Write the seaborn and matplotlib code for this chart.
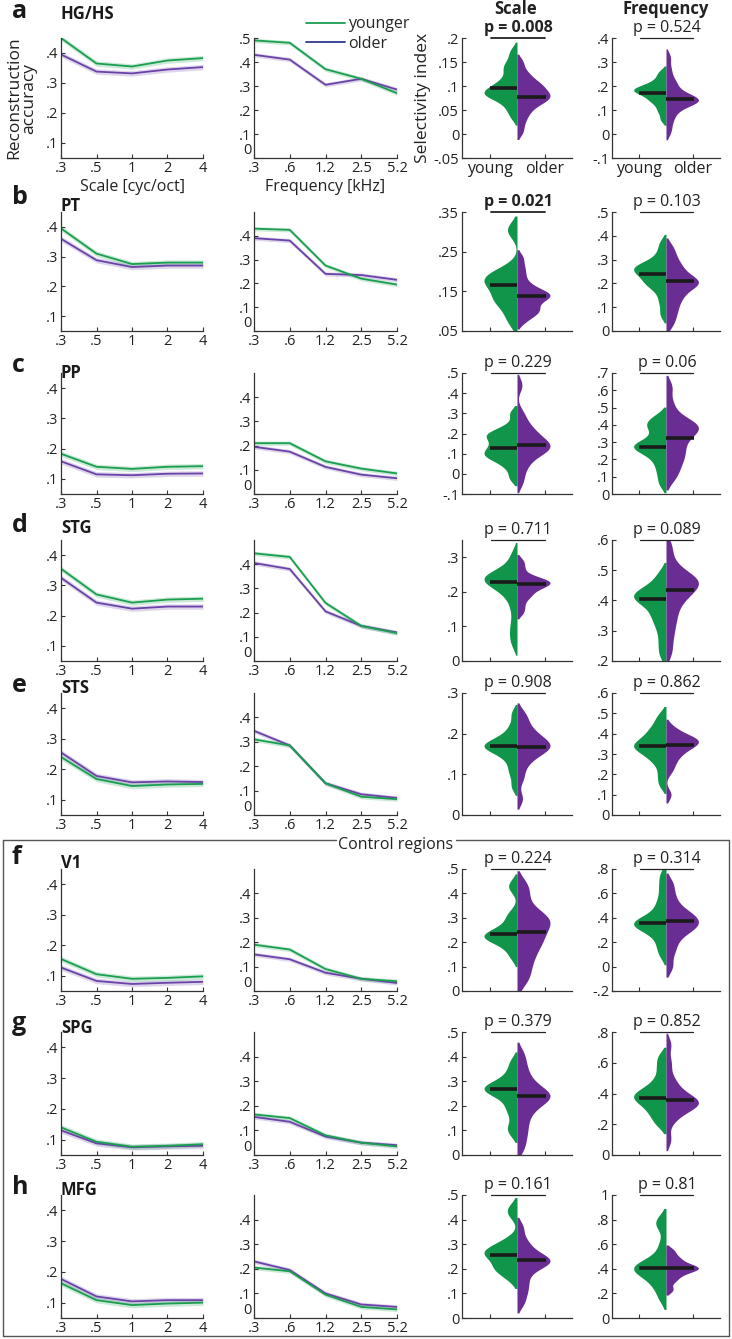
import numpy as np
import pandas as pd
import matplotlib
matplotlib.use('Agg')
import matplotlib.pyplot as plt
import seaborn as sns
from matplotlib.lines import Line2D

sns.set_theme(style='ticks')
plt.rcParams['font.family'] = ['Open Sans', 'DejaVu Sans']

# ---- data ----
regions = ['HG/HS', 'PT', 'PP', 'STG', 'STS', 'V1', 'SPG', 'MFG']
letters = ['a', 'b', 'c', 'd', 'e', 'f', 'g', 'h']
scale_labels = ['.3', '.5', '1', '2', '4']
freq_labels = ['.3', '.6', '1.2', '2.5', '5.2']

# reconstruction accuracy vs scale (one row per region)
scale_young = [[.45, .365, .355, .375, .383], [.395, .31, .275, .28, .28],
               [.183, .14, .133, .14, .142], [.355, .27, .243, .253, .256],
               [.24, .168, .145, .15, .152], [.155, .105, .09, .093, .098],
               [.14, .093, .077, .08, .085], [.163, .108, .092, .097, .10]]
scale_older = [[.395, .338, .332, .345, .353], [.36, .288, .265, .27, .27],
               [.158, .115, .112, .117, .118], [.325, .243, .223, .23, .23],
               [.255, .178, .157, .16, .158], [.127, .083, .073, .077, .08],
               [.13, .088, .075, .078, .08], [.177, .12, .104, .108, .108]]
# reconstruction accuracy vs frequency
freq_young = [[.49, .48, .37, .33, .27], [.43, .425, .275, .22, .195],
              [.21, .21, .135, .105, .085], [.445, .43, .24, .145, .115],
              [.31, .285, .13, .075, .065], [.19, .17, .09, .05, .04],
              [.165, .15, .08, .05, .035], [.205, .19, .095, .045, .035]]
freq_older = [[.43, .41, .305, .33, .285], [.39, .38, .24, .235, .215],
              [.195, .175, .112, .08, .065], [.405, .38, .205, .145, .118],
              [.345, .285, .13, .085, .07], [.15, .13, .075, .05, .033],
              [.155, .135, .075, .05, .04], [.23, .195, .10, .055, .045]]
sem_band = 0.009

# selectivity index samples (scale)
si_scale_young = [
    [.035, .05, .06, .07, .075, .08, .082, .085, .088, .09, .095, .10, .105, .11, .12, .13, .14, .145, .16, .175],
    [.07, .09, .11, .125, .13, .135, .15, .16, .17, .175, .18, .185, .19, .20, .21, .30, .31],
    [-.02, .03, .06, .08, .09, .10, .11, .13, .14, .16, .18, .19, .20, .21, .24, .30],
    [.05, .08, .11, .15, .18, .20, .21, .22, .23, .235, .24, .24, .245, .25, .26, .28, .31],
    [.07, .10, .12, .14, .15, .16, .165, .17, .17, .175, .18, .19, .20, .22, .25],
    [.14, .17, .20, .21, .22, .22, .225, .23, .24, .25, .27, .30, .32, .42, .44],
    [.09, .12, .17, .20, .23, .25, .26, .27, .27, .28, .29, .31, .34, .38],
    [.16, .19, .20, .21, .23, .25, .26, .27, .27, .28, .30, .32, .42, .45]]
si_scale_older = [
    [.005, .025, .04, .05, .06, .065, .07, .075, .078, .08, .085, .09, .095, .10, .105, .11, .12, .13, .15],
    [.075, .09, .10, .10, .11, .12, .13, .135, .14, .14, .145, .15, .16, .17, .19, .21, .235],
    [-.04, .02, .06, .09, .11, .12, .13, .14, .15, .16, .18, .20, .22, .25, .30, .44],
    [.14, .16, .18, .19, .20, .21, .215, .22, .225, .228, .23, .235, .24, .25, .27, .29],
    [.04, .09, .12, .14, .15, .16, .165, .17, .175, .18, .19, .20, .21, .23, .25],
    [.04, .08, .12, .15, .18, .20, .22, .24, .26, .28, .29, .30, .32, .35, .40, .44],
    [.03, .08, .12, .16, .19, .21, .23, .24, .24, .25, .27, .29, .32, .36, .41],
    [.06, .10, .13, .16, .19, .21, .22, .23, .235, .24, .25, .27, .29, .32, .37]]
# selectivity index samples (frequency)
si_freq_young = [
    [.06, .09, .11, .13, .14, .15, .16, .17, .175, .18, .185, .19, .19, .20, .21, .22, .24, .26],
    [.07, .12, .16, .19, .20, .21, .23, .24, .25, .26, .27, .27, .28, .30, .33, .37],
    [.06, .12, .17, .21, .24, .26, .27, .28, .29, .30, .34, .38, .40, .42, .45],
    [.22, .26, .30, .33, .35, .37, .39, .40, .41, .415, .42, .43, .44, .46, .49],
    [.15, .20, .25, .28, .30, .32, .33, .34, .35, .36, .38, .40, .42, .45, .49],
    [.10, .18, .25, .30, .33, .35, .35, .36, .38, .42, .48, .55, .65, .75],
    [.20, .25, .29, .32, .35, .37, .38, .40, .42, .45, .50, .57, .64],
    [.16, .25, .30, .35, .38, .40, .41, .42, .45, .50, .60, .75, .80]]
si_freq_older = [
    [.01, .05, .08, .10, .12, .13, .135, .14, .14, .145, .15, .16, .17, .19, .21, .23, .27, .32],
    [.03, .07, .10, .13, .15, .17, .19, .20, .205, .21, .22, .24, .26, .28, .31, .35],
    [.09, .14, .18, .22, .24, .28, .31, .34, .36, .38, .39, .40, .42, .45, .52, .62],
    [.23, .28, .32, .35, .38, .40, .42, .43, .44, .45, .46, .47, .475, .48, .50, .53, .58],
    [.10, .22, .26, .29, .31, .33, .34, .35, .36, .37, .375, .38, .40, .43],
    [.0, .12, .20, .27, .30, .33, .35, .37, .40, .42, .45, .50, .58, .68],
    [.10, .22, .27, .30, .32, .33, .34, .35, .36, .38, .41, .45, .50, .60, .72],
    [.23, .30, .34, .37, .39, .40, .41, .42, .44, .47, .50, .55]]

med_scale_young = [.095, .165, .13, .228, .17, .235, .27, .255]
med_scale_older = [.078, .137, .145, .223, .167, .24, .24, .235]
med_freq_young = [.17, .24, .27, .405, .34, .355, .37, .41]
med_freq_older = [.145, .21, .325, .435, .345, .37, .355, .41]
p_scale = ['0.008', '0.021', '0.229', '0.711', '0.908', '0.224', '0.379', '0.161']
p_freq = ['0.524', '0.103', '0.06', '0.089', '0.862', '0.314', '0.852', '0.81']

# y axis setups for violins (min, max, step)
scale_yt = [(-.05, .2, .05), (.05, .35, .1), (-.1, .5, .1), (0, .3, .1),
            (0, .3, .1), (0, .5, .1), (0, .5, .1), (0, .5, .1)]
scale_ylim = [(-.05, .2), (.05, .35), (-.1, .5), (0, .35), (0, .3), (0, .5), (0, .5), (0, .5)]
freq_yt = [(-.1, .4, .1), (0, .5, .1), (0, .7, .1), (.2, .6, .1),
           (0, .6, .1), (-.2, .8, .2), (0, .8, .2), (0, 1, .2)]

# ---- styling ----
GREEN_LINE = '#1a9e4f'
PURPLE_LINE = '#6a43a8'
GREEN_V = '#10954a'
PURPLE_V = '#6a2d93'
AX_COL = '#333333'

W, H = 732, 1339
fig = plt.figure(figsize=(W / 100, H / 100), dpi=100)
cols_px = [(61, 203), (254, 397), (462, 572), (612, 720)]
rows_px = [(38, 158), (212, 331), (373, 494), (540, 661), (693, 815),
           (869, 991), (1032, 1155), (1195, 1318)]


def add_ax(c, r):
    l, rt = cols_px[c]
    t, b = rows_px[r]
    return fig.add_axes([l / W, 1 - b / H, (rt - l) / W, (b - t) / H])


def fmt(v):
    s = '%g' % round(v, 3)
    if s.startswith('0.'):
        s = s[1:]
    elif s.startswith('-0.'):
        s = '-' + s[2:]
    return s


def style(ax):
    sns.despine(ax=ax)
    for sp in ['left', 'bottom']:
        ax.spines[sp].set_color(AX_COL)
        ax.spines[sp].set_linewidth(0.9)
    ax.tick_params(direction='in', length=3, width=0.8, colors=AX_COL,
                   labelsize=10.5, labelcolor='#222222', pad=2)
    ax.set_facecolor('none')


def line_panel(ax, young, older, labels, yticks, ylim, raised_zero=False):
    x = np.arange(len(labels))
    for vals, col in [(older, PURPLE_LINE), (young, GREEN_LINE)]:
        v = np.array(vals)
        ax.fill_between(x, v - sem_band, v + sem_band, color=col, alpha=0.22, lw=0)
        sns.lineplot(x=x, y=v, color=col, lw=1.3, ax=ax)
    ax.set_xlim(0, len(labels) - 1)
    ax.set_xticks(x)
    ax.set_xticklabels(labels)
    ax.set_ylim(*ylim)
    ax.set_yticks(yticks)
    ylabels = [fmt(t) for t in yticks]
    if raised_zero:
        # the "0" sits just above the ".3", as in the original
        ylabels[0] = ''
        ax.text(-0.02, 0, '0', transform=ax.get_yaxis_transform(), ha='right',
                va='bottom', fontsize=10.5, color='#222222')
    ax.set_yticklabels(ylabels)
    style(ax)


def violin_panel(ax, young, older, my, mo, p, yt, ylim, show_x):
    df = pd.DataFrame({'value': young + older,
                       'group': ['young'] * len(young) + ['older'] * len(older)})
    sns.violinplot(data=df, y='value', hue='group', hue_order=['young', 'older'],
                   split=True, inner=None, linewidth=0, saturation=1,
                   palette=[GREEN_V, PURPLE_V], width=1.2, bw_adjust=0.55,
                   cut=1.5, legend=False, ax=ax)
    ax.hlines(my, -0.5, 0, color='#1a1a1a', lw=2.6)
    ax.hlines(mo, 0, 0.52, color='#1a1a1a', lw=2.6)
    ax.set_xlim(-1, 1)
    ax.set_xticks([-0.5, 0.5])
    ax.set_xticklabels(['young', 'older'] if show_x else ['', ''])
    ax.set_xlabel('')
    ax.set_ylabel('')
    ticks = np.arange(yt[0], yt[1] + 1e-9, yt[2])
    ax.set_yticks(ticks)
    ax.set_yticklabels([fmt(t) for t in ticks])
    ax.set_ylim(*ylim)
    style(ax)
    bold = float(p) < 0.05
    trans = ax.get_xaxis_transform()
    ax.plot([-0.48, 0.5], [1.0, 1.0], transform=trans, color='#222222',
            lw=1.3 if bold else 0.9, clip_on=False)
    ax.text(0.02, 1.02, 'p = ' + p, transform=trans, ha='center', va='bottom',
            fontsize=11.5, fontweight='bold' if bold else 'normal', color='#222222')


for r in range(8):
    ax1 = add_ax(0, r)
    line_panel(ax1, scale_young[r], scale_older[r], scale_labels,
               [.1, .2, .3, .4], (0.05, 0.45))
    ax2 = add_ax(1, r)
    ft = [0, .1, .2, .3, .4, .5] if r == 0 else [0, .1, .2, .3, .4]
    line_panel(ax2, freq_young[r], freq_older[r], freq_labels, ft, (0, 0.5),
               raised_zero=True)
    ax3 = add_ax(2, r)
    violin_panel(ax3, si_scale_young[r], si_scale_older[r], med_scale_young[r],
                 med_scale_older[r], p_scale[r], scale_yt[r], scale_ylim[r], r == 0)
    ax4 = add_ax(3, r)
    violin_panel(ax4, si_freq_young[r], si_freq_older[r], med_freq_young[r],
                 med_freq_older[r], p_freq[r], freq_yt[r],
                 (freq_yt[r][0], freq_yt[r][1]), r == 0)
    if r == 0:
        ax1.set_ylabel('Reconstruction\naccuracy', fontsize=12.5, labelpad=6,
                       linespacing=0.95, color='#222222')
        ax1.set_xlabel('Scale [cyc/oct]', fontsize=11.5, labelpad=2, color='#222222')
        ax2.set_xlabel('Frequency [kHz]', fontsize=11.5, labelpad=2, color='#222222')
        ax3.set_ylabel('Selectivity index', fontsize=12.5, labelpad=2, color='#222222')
        ax3.tick_params(axis='x', labelsize=11.5)
        ax4.tick_params(axis='x', labelsize=11.5)

# column titles
fig.text(516 / W, 1 - 9 / H, 'Scale', fontsize=12, fontweight='bold',
         ha='center', va='center', color='#222222')
fig.text(666 / W, 1 - 9 / H, 'Frequency', fontsize=12, fontweight='bold',
         ha='center', va='center', color='#222222')

# panel letters and region names
letter_y = [12, 198, 366, 525, 685, 857, 1023, 1188]
region_y = [14, 206, 373, 528, 688, 863, 1028, 1190]
for r in range(8):
    fig.text(12 / W, 1 - letter_y[r] / H, letters[r], fontsize=18, fontweight='bold',
             ha='left', va='center', color='#1a1a1a')
    fig.text(61 / W, 1 - region_y[r] / H, regions[r], fontsize=12, fontweight='bold',
             ha='left', va='center', color='#1a1a1a')

# legend
handles = [Line2D([], [], color=GREEN_LINE, lw=1.3, label='younger'),
           Line2D([], [], color='#2e3a90', lw=1.3, label='older')]
fig.legend(handles=handles, loc='upper left', bbox_to_anchor=(300 / W, 1 - 10 / H),
           frameon=False, fontsize=11.5, handlelength=2.4, handletextpad=0.2,
           labelspacing=0.2, borderaxespad=0)

# control regions box
BOX = '#555555'
x0, x1, y0, y1 = 3, 729, 840, 1336


def fline(xs, ys):
    fig.add_artist(Line2D([x / W for x in xs], [1 - y / H for y in ys],
                          color=BOX, lw=1.0))


fline([x0, 336], [y0, y0])
fline([456, x1], [y0, y0])
fline([x0, x0], [y0, y1])
fline([x1, x1], [y0, y1])
fline([x0, x1], [y1, y1])
fig.text(396 / W, 1 - 845 / H, 'Control regions', fontsize=11.5, ha='center',
         va='center', color='#222222')

fig.savefig('out.png', dpi=100)
